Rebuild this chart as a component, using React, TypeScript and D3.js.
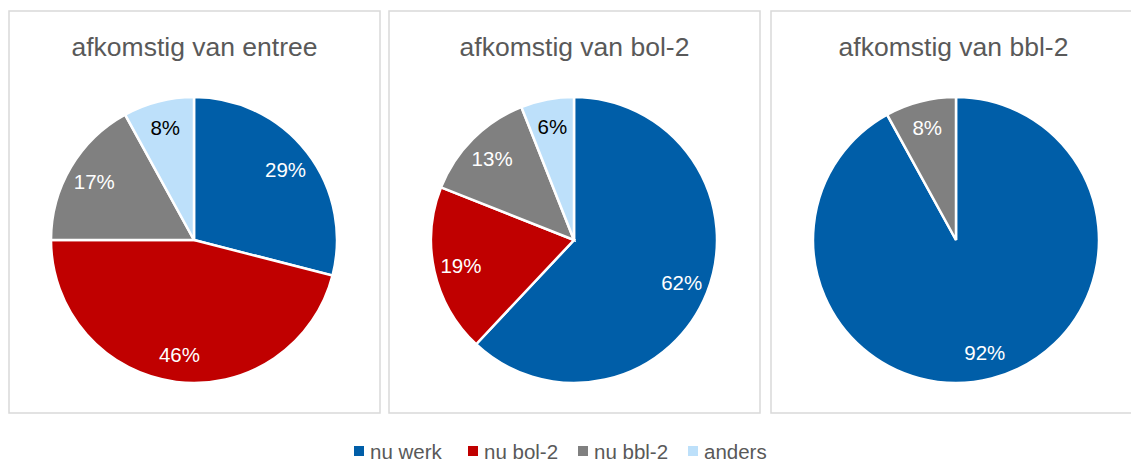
import * as d3 from 'd3'

const categories = ['nu werk', 'nu bol-2', 'nu bbl-2', 'anders']
const colors = ['#005EA8', '#C00000', '#808080', '#BDE0FA']
const labelColors = ['#ffffff', '#ffffff', '#ffffff', '#000000']

const titles = ['afkomstig van entree', 'afkomstig van bol-2', 'afkomstig van bbl-2']
const entree = [29, 46, 17, 8]
const bol2 = [62, 19, 13, 6]
const bbl2 = [92, 0, 8, 0]
const series = [entree, bol2, bbl2]

// panel frames (left, width)
const panelLeft = [9, 389, 771]
const panelWidth = [371, 371, 365]
const panelTop = 11
const panelHeight = 402

const W = 1131
const H = 462
const radius = 143
const pieCy = 240

const legendX = [354, 468, 578, 688]

function Panel({ i }: { i: number }) {
  const values = series[i]
  const cx = panelLeft[i] + 185
  const pie = d3.pie<number>().sort(null).value((d) => d)
  const arcs = pie(values)
  const arc = d3.arc<d3.PieArcDatum<number>>().innerRadius(0).outerRadius(radius)
  const labelArc = d3.arc<d3.PieArcDatum<number>>().innerRadius(radius * 0.81).outerRadius(radius * 0.81)

  return (
    <g>
      <rect
        x={panelLeft[i]}
        y={panelTop}
        width={panelWidth[i]}
        height={panelHeight}
        fill="#ffffff"
        stroke="#d9d9d9"
        strokeWidth={1.5}
      />
      <text
        x={panelLeft[i] + panelWidth[i] / 2}
        y={56}
        textAnchor="middle"
        fill="#595959"
        fontSize={26.5}
      >
        {titles[i]}
      </text>
      <g transform={`translate(${cx},${pieCy})`}>
        {arcs.map((a, j) =>
          a.value > 0 ? (
            <path key={j} d={arc(a) || ''} fill={colors[j]} stroke="#ffffff" strokeWidth={2.5} />
          ) : null
        )}
        {arcs.map((a, j) => {
          if (a.value <= 0) return null
          const [lx, ly] = labelArc.centroid(a)
          return (
            <text
              key={'l' + j}
              x={lx}
              y={ly}
              textAnchor="middle"
              dominantBaseline="central"
              fill={labelColors[j]}
              fontSize={20.5}
            >
              {a.value}%
            </text>
          )
        })}
      </g>
    </g>
  )
}

export default function App() {
  return (
    <svg
      width={W}
      height={H}
      style={{ position: 'absolute', left: 0, top: 0, fontFamily: 'Arial, "Liberation Sans", sans-serif' }}
    >
      <rect width={W} height={H} fill="#ffffff" />
      {series.map((_, i) => (
        <Panel key={i} i={i} />
      ))}
      {/* Legend */}
      {categories.map((c, j) => (
        <g key={c}>
          <rect x={legendX[j]} y={446} width={10} height={10} fill={colors[j]} />
          <text x={legendX[j] + 16} y={451} dominantBaseline="central" fill="#595959" fontSize={20.5}>
            {c}
          </text>
        </g>
      ))}
    </svg>
  )
}
